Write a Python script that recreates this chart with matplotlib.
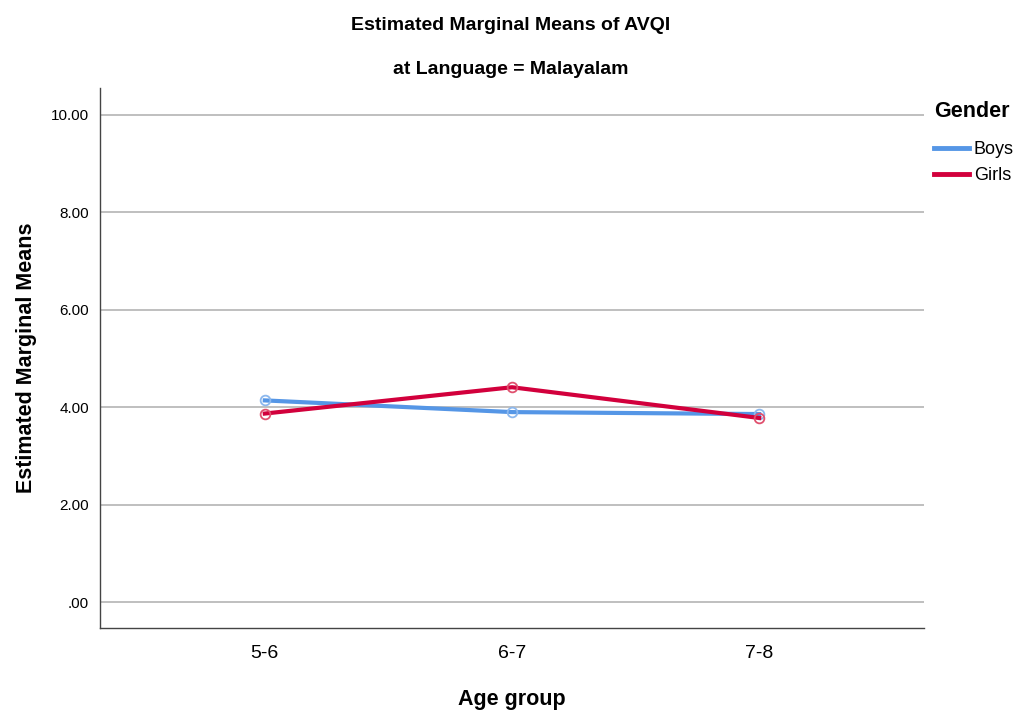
import matplotlib
matplotlib.use("Agg")
import matplotlib.pyplot as plt
from matplotlib.lines import Line2D

plt.rcParams['font.family'] = ['Liberation Sans', 'DejaVu Sans']

age_groups = ['5-6', '6-7', '7-8']
boys = [4.14, 3.90, 3.86]
girls = [3.87, 4.41, 3.78]
yticks = [0, 2, 4, 6, 8, 10]
ytick_labels = ['.00', '2.00', '4.00', '6.00', '8.00', '10.00']

blue = '#5596e6'
red = '#d2003c'

fig = plt.figure(figsize=(10.22, 7.11), dpi=100)
ax = fig.add_axes([100 / 1022, 1 - 628 / 711, 824 / 1022, 540 / 711])

x = [1, 2, 3]
ax.plot(x, boys, color=blue, lw=3, marker='o', ms=7, mfc='none',
        mec='#8cb8ee', mew=1.3, zorder=3)
ax.plot(x, girls, color=red, lw=3, marker='o', ms=7, mfc='none',
        mec='#e0506e', mew=1.3, zorder=4)

ax.set_xlim(1 - 2 / 3, 3 + 2 / 3)
ax.set_ylim(-0.53, 10.55)
ax.set_yticks(yticks)
ax.set_yticklabels(ytick_labels, fontsize=11)
ax.set_xticks(x)
ax.set_xticklabels(age_groups, fontsize=14)
ax.tick_params(length=0)
ax.tick_params(axis='y', pad=8)
ax.tick_params(axis='x', pad=12)
ax.yaxis.grid(True, color='#b4b4b4', lw=1.2)
ax.set_axisbelow(True)
for s in ['top', 'right']:
    ax.spines[s].set_visible(False)
for s in ['left', 'bottom']:
    ax.spines[s].set_color('#444444')
    ax.spines[s].set_linewidth(1)

ax.set_xlabel('Age group', fontsize=15.5, fontweight='bold', labelpad=20)
ax.set_ylabel('Estimated Marginal Means', fontsize=15.5, fontweight='bold', labelpad=10)

fig.text(511 / 1022, 1 - 25 / 711, 'Estimated Marginal Means of AVQI',
         ha='center', va='center', fontsize=14, fontweight='bold')
fig.text(511 / 1022, 1 - 69 / 711, 'at Language = Malayalam',
         ha='center', va='center', fontsize=14, fontweight='bold')

handles = [Line2D([], [], color=blue, lw=3.5), Line2D([], [], color=red, lw=3.5)]
leg = ax.legend(handles, ['Boys', 'Girls'], loc='upper left',
                bbox_to_anchor=(1.008, 0.983), frameon=False,
                title='Gender', fontsize=13, handlelength=1.9, handletextpad=0.3,
                borderaxespad=0, borderpad=0.2, labelspacing=0.5)
leg.get_title().set_fontsize(15.5)
leg.get_title().set_fontweight('bold')
leg._legend_box.align = 'left'
leg._legend_box.sep = 14

fig.savefig('out.png', dpi=100)
